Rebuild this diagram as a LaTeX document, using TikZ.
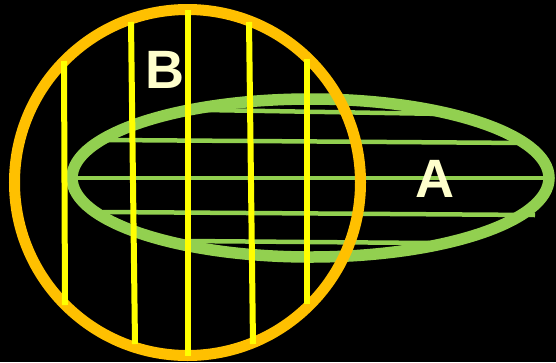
\documentclass[tikz,border=0pt]{standalone}
\usepackage{fontspec}
\setmainfont{Liberation Sans}
\usepackage{xcolor}
\definecolor{setorange}{HTML}{FFC000}
\definecolor{setgreen}{HTML}{92D050}
\definecolor{setyellow}{HTML}{FFFF00}
\definecolor{setlabel}{HTML}{FFFFCC}
\usetikzlibrary{positioning}

\begin{document}
\begin{tikzpicture}[x=1pt, y=-1pt,
      ringB/.style={draw=setorange, line width=11pt},
      ringA/.style={draw=setgreen, line width=11.5pt},
      hatchA/.style={draw=setgreen, line width=4.5pt},
      hatchB/.style={draw=setyellow, line width=6pt},
      setname/.style={text=setlabel, font=\fontsize{54}{54}\selectfont\bfseries, inner sep=0pt}
    ]
    \fill[black] (0,0) rectangle (556,362);
    \useasboundingbox (0,0) rectangle (556,362);

    % set A: ellipse and its horizontal hatching
    \draw[ringA] (310.5,178) ellipse [x radius=238.5, y radius=79];
    \draw[hatchA] (205,110) -- (445,114);
    \draw[hatchA] (108,140) -- (527,143);
    \draw[hatchA] (72,178) -- (550,178);
    \draw[hatchA] (103,212) -- (535,215);
    \draw[hatchA] (185,241) -- (430,243);

    % set B: circle and its vertical hatching
    \draw[ringB] (187.5,182.5) circle [radius=173];
    \draw[hatchB] (64,61) -- (65,305);
    \draw[hatchB] (131,22) -- (135,344);
    \draw[hatchB] (188,10) -- (188,356);
    \draw[hatchB] (249,22) -- (253,344);
    \draw[hatchB] (307,59) -- (307,304);

    \node[setname] (labB) at (165,70) {B};
    \node[setname] (labA) at (435,179) {A};
  \end{tikzpicture}
\end{document}
